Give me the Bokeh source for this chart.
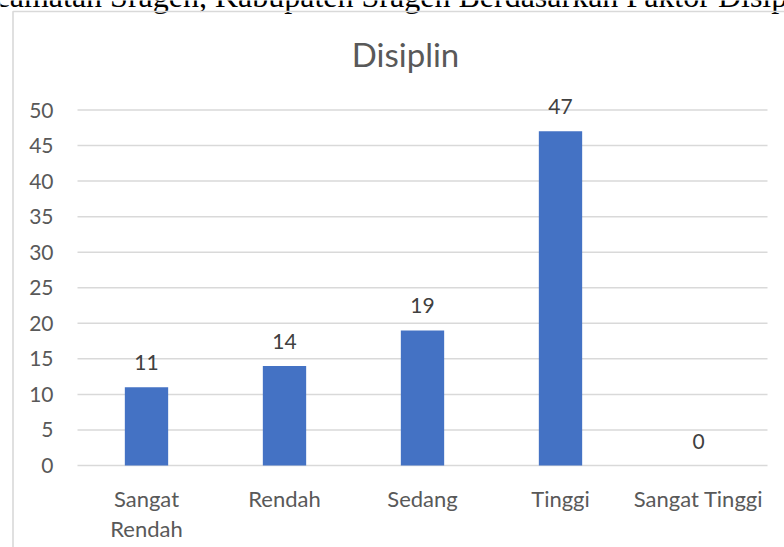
from bokeh.plotting import figure
from bokeh.models import ColumnDataSource, Range1d, LabelSet
from bokeh.core.properties import value
from bokeh.embed import file_html
from bokeh.resources import INLINE

categories = ["Sangat Rendah", "Rendah", "Sedang", "Tinggi", "Sangat Tinggi"]
values = [11, 14, 19, 47, 0]
y_ticks = [0, 5, 10, 15, 20, 25, 30, 35, 40, 45, 50]
y_tick_labels = [str(t) for t in y_ticks]
category_labels = ["Sangat\nRendah", "Rendah", "Sedang", "Tinggi", "Sangat Tinggi"]
title_text = "Disiplin"
header_text = "camatan Sragen, Kabupaten Sragen Berdasarkan Faktor Disiplin"

FONT = "Lato"
W, H = 784, 547
PLOT_LEFT, PLOT_RIGHT = 77, 767      # pixel columns of the plot area
ZERO_Y, TOP_Y = 465, 109.5           # pixel rows of value 0 and value 50
CAT_W = (PLOT_RIGHT - PLOT_LEFT) / len(categories)
PX_PER_UNIT = (ZERO_Y - TOP_Y) / 50


def px_x(px):   # page pixel column -> data x
    return (px - PLOT_LEFT) / CAT_W


def px_y(py):   # page pixel row -> data y
    return (ZERO_Y - py) / PX_PER_UNIT


x_pos = [i + 0.5 for i in range(len(categories))]

p = figure(width=W, height=H, frame_width=W, frame_height=H, min_border=0,
           x_range=Range1d(px_x(0), px_x(W)), y_range=Range1d(px_y(H), px_y(0)),
           x_axis_location=None, y_axis_location=None,
           output_backend="svg", toolbar_location=None, tools="")
p.grid.visible = False
p.outline_line_color = None
p.background_fill_color = "white"
p.border_fill_color = "white"

# page header (cut off at the top of the picture)
p.text(x=[px_x(-5)], y=[px_y(-4.5)], text=[header_text], text_align="left",
       text_baseline="alphabetic", text_font=value("Liberation Serif"),
       text_font_size="32px", text_color="black")

# chart frame border (top and left edges)
p.line(x=[px_x(W + 10), px_x(12.5), px_x(12.5)],
       y=[px_y(11), px_y(11), px_y(H + 10)],
       line_color="#d9d9d9", line_width=1.6)

# chart title
p.text(x=[px_x(405)], y=[px_y(53.5)], text=[title_text], text_align="center",
       text_baseline="alphabetic", text_font=value(FONT),
       text_font_size="33px", text_color="#595959")

# horizontal gridlines at the value ticks
p.segment(x0=[0] * len(y_ticks), x1=[len(categories)] * len(y_ticks),
          y0=y_ticks, y1=y_ticks, line_color="#d9d9d9", line_width=1.5)

# value-axis tick labels
p.text(x=[0] * len(y_ticks), y=y_ticks, text=y_tick_labels, x_offset=-24,
       text_align="right", text_baseline="middle", text_font=value(FONT),
       text_font_size="21px", text_color="#595959")

source = ColumnDataSource(data=dict(x=x_pos, top=values,
                                    label=[str(v) for v in values],
                                    cat=category_labels,
                                    zero=[0] * len(values)))

p.vbar(x="x", top="top", width=0.314, source=source,
       fill_color="#4472C4", line_color=None)

p.add_layout(LabelSet(x="x", y="top", text="label", source=source,
                      y_offset=17, text_align="center",
                      text_baseline="alphabetic", text_font=value(FONT),
                      text_font_size="21px", text_color="#404040"))

# category labels under the baseline
p.text(x="x", y="zero", text="cat", source=source, y_offset=19,
       text_align="center", text_baseline="top", text_line_height=1.13,
       text_font=value(FONT), text_font_size="22px", text_color="#595959")

open("out.html", "w").write(file_html(p, INLINE))
